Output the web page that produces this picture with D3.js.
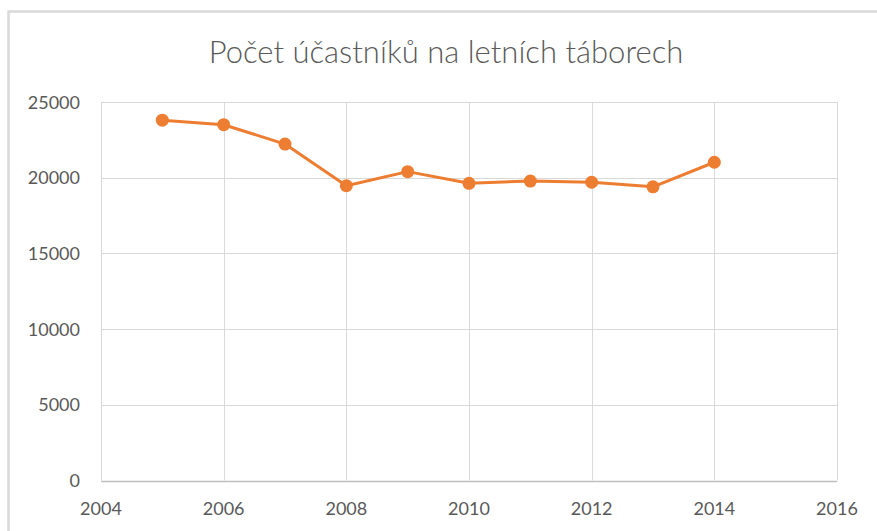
<!DOCTYPE html>
<html>
  <head>
    <meta charset="utf-8">
    <script type="text/javascript" src="https://cdn.jsdelivr.net/npm/d3@7"></script>
    <style>
      body { margin: 0; background: #fff; }
      text { font-family: Lato, "Open Sans", sans-serif; fill: #595959; }
    </style>
  </head>
  <body>
    <div id="viz"></div>
    <script type="text/javascript">
      // values
      const title = "Počet účastníků na letních táborech";
      const years = [2005, 2006, 2007, 2008, 2009, 2010, 2011, 2012, 2013, 2014];
      const counts = [23800, 23500, 22220, 19470, 20400, 19630, 19780, 19700, 19400, 21020];
      const xTicks = [2004, 2006, 2008, 2010, 2012, 2014, 2016];
      const yTicks = [0, 5000, 10000, 15000, 20000, 25000];

      const width = 877;
      const height = 531;
      const margin = {left: 101, right: 40, top: 102, bottom: 50};

      const svg = d3.select("#viz")
        .append("svg")
        .attr("width", width)
        .attr("height", height);

      // chart border (only top and left visible in the crop)
      svg.append("path")
        .attr("d", "M8.5," + height + "V11.5H" + width)
        .style("fill", "none")
        .style("stroke", "#d9d9d9")
        .style("stroke-width", 2.5);

      svg.append("text")
        .attr("x", 446)
        .attr("y", 63)
        .attr("text-anchor", "middle")
        .style("font-size", "31px")
        .style("font-weight", 300)
        .text(title);

      const x = d3.scaleLinear()
        .domain([2004, 2016])
        .range([margin.left, width - margin.right]);

      const y = d3.scaleLinear()
        .domain([0, 25000])
        .range([480.5, margin.top]);

      // gridlines
      svg.append("g")
        .selectAll("line.h")
        .data(yTicks)
        .enter()
        .append("line")
        .attr("x1", x(2004))
        .attr("x2", x(2016))
        .attr("y1", d => Math.round(y(d)) + 0.5)
        .attr("y2", d => Math.round(y(d)) + 0.5)
        .style("stroke", d => d === 0 ? "#bfbfbf" : "#d9d9d9")
        .style("stroke-width", d => d === 0 ? 1.5 : 1);

      svg.append("g")
        .selectAll("line.v")
        .data(xTicks)
        .enter()
        .append("line")
        .attr("x1", d => Math.round(x(d)) + 0.5)
        .attr("x2", d => Math.round(x(d)) + 0.5)
        .attr("y1", y(25000))
        .attr("y2", y(0))
        .style("stroke", "#d9d9d9")
        .style("stroke-width", 1);

      // tick labels
      svg.append("g")
        .selectAll("text")
        .data(yTicks)
        .enter()
        .append("text")
        .attr("x", 80)
        .attr("y", d => y(d) + 6.5)
        .attr("text-anchor", "end")
        .style("font-size", "18px")
        .text(d => d);

      svg.append("g")
        .selectAll("text")
        .data(xTicks)
        .enter()
        .append("text")
        .attr("x", d => x(d))
        .attr("y", 515)
        .attr("text-anchor", "middle")
        .style("font-size", "18px")
        .text(d => d);

      const pts = years.map((yr, i) => [yr, counts[i]]);

      svg.append("path")
        .datum(pts)
        .attr("d", d3.line().x(d => x(d[0])).y(d => y(d[1])))
        .style("fill", "none")
        .style("stroke", "#ed7d31")
        .style("stroke-width", 3)
        .style("stroke-linejoin", "round");

      svg.append("g")
        .selectAll("circle")
        .data(pts)
        .enter()
        .append("circle")
        .attr("cx", d => x(d[0]))
        .attr("cy", d => y(d[1]))
        .attr("r", 6.5)
        .style("fill", "#ed7d31");
    </script>
  </body>
</html>
